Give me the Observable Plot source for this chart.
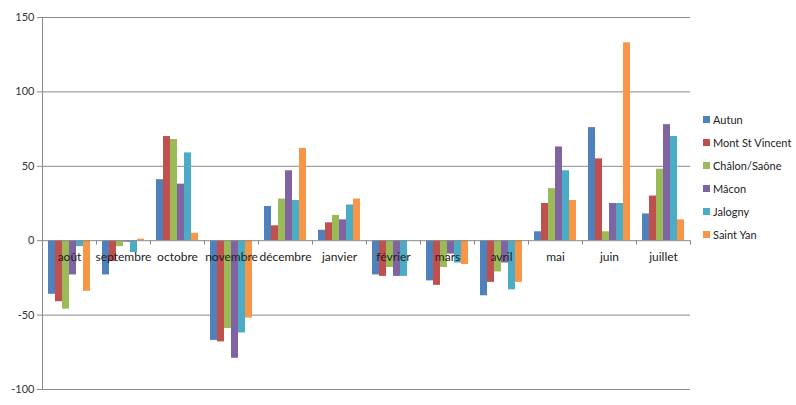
<!DOCTYPE html>
<html><head><meta charset="utf-8">
<script src="https://cdn.jsdelivr.net/npm/d3@7"></script>
<script src="https://cdn.jsdelivr.net/npm/@observablehq/plot@0.6"></script>
<style>
body{margin:0;background:#fff;font-family:Lato,"Open Sans",sans-serif;}
#wrap{position:relative;width:796px;height:405px;}
#legend{position:absolute;left:703px;top:108px;font-size:11px;color:#222;}
#legend div{height:23px;line-height:14px;display:flex;align-items:center;white-space:nowrap;}
#legend span.sw{display:inline-block;width:7px;height:7px;margin-right:3px;}
</style></head>
<body><div id="wrap"><div id="chart"></div><div id="legend"></div></div>
<script>
const months = ["août","septembre","octobre","novembre","décembre","janvier","février","mars","avril","mai","juin","juillet"];
const seriesNames = ["Autun","Mont St Vincent","Châlon/Saône","Mâcon","Jalogny","Saint Yan"];
const autun    = [-36, -23, 41, -67, 23,  7, -23, -27, -37,  6,  76, 18];
const montStV  = [-41, -14, 70, -68, 10, 12, -24, -30, -28, 25,  55, 30];
const chalon   = [-46,  -4, 68, -59, 28, 17, -18, -18, -21, 35,   6, 48];
const macon    = [-23,  -1, 38, -79, 47, 14, -24,  -9, -15, 63,  25, 78];
const jalogny  = [ -4,  -8, 59, -62, 27, 24, -24, -15, -33, 47,  25, 70];
const saintYan = [-34,   1,  5, -52, 62, 28,   0, -16, -28, 27, 133, 14];
const yTicks = [-100, -50, 0, 50, 100, 150];
const colors = ["#4F81BD","#C0504D","#9BBB59","#8064A2","#4BACC6","#F79646"];

const allSeries = [autun, montStV, chalon, macon, jalogny, saintYan];
const data = [];
months.forEach((m, i) => seriesNames.forEach((s, j) => data.push({month: m, series: s, value: allSeries[j][i]})));

const W = 796, H = 405, mL = 42, mR = 106, mT = 17, mB = 16;
const half = (W - mL - mR) / months.length / 2;

const chart = Plot.plot({
  width: W, height: H,
  marginLeft: mL, marginRight: mR, marginTop: mT, marginBottom: mB,
  style: {fontFamily: "Lato, 'Open Sans', sans-serif", fontSize: "11px", color: "#404040", background: "#fff"},
  fx: {domain: months, padding: 0, axis: null},
  x: {domain: seriesNames, paddingInner: 0, paddingOuter: 0.75, axis: null},
  y: {domain: [-100, 150], ticks: yTicks},
  color: {domain: seriesNames, range: colors},
  marks: [
    Plot.ruleY(yTicks.filter(t => t !== 0), {stroke: "#8a8a8a", strokeWidth: 1}),
    Plot.barY(data, {fx: "month", x: "series", y: "value", fill: "series"}),
    Plot.ruleY([0], {stroke: "#8a8a8a", strokeWidth: 1}),
    Plot.ruleX(months, {fx: d => d, x: null, y1: 0, y2: -3, dx: -half, stroke: "#8a8a8a"}),
    Plot.ruleX([months[months.length - 1]], {fx: d => d, x: null, y1: 0, y2: -3, dx: half, stroke: "#8a8a8a"}),
    Plot.ruleX([months[0]], {fx: d => d, x: null, dx: -half, stroke: "#8a8a8a"}),
    Plot.axisY({ticks: yTicks, label: null, tickSize: 5, tickPadding: 3, tickFormat: d => String(d), stroke: "#8a8a8a", color: "#333", fontSize: 11}),
    Plot.text(months, {fx: d => d, text: d => d, y: 0, dy: 16, fill: "#222", fontSize: 12})
  ]
});
document.getElementById("chart").appendChild(chart);

const legend = document.getElementById("legend");
seriesNames.forEach((s, i) => {
  const row = document.createElement("div");
  row.innerHTML = `<span class="sw" style="background:${colors[i]}"></span>${s}`;
  legend.appendChild(row);
});
</script></body></html>
